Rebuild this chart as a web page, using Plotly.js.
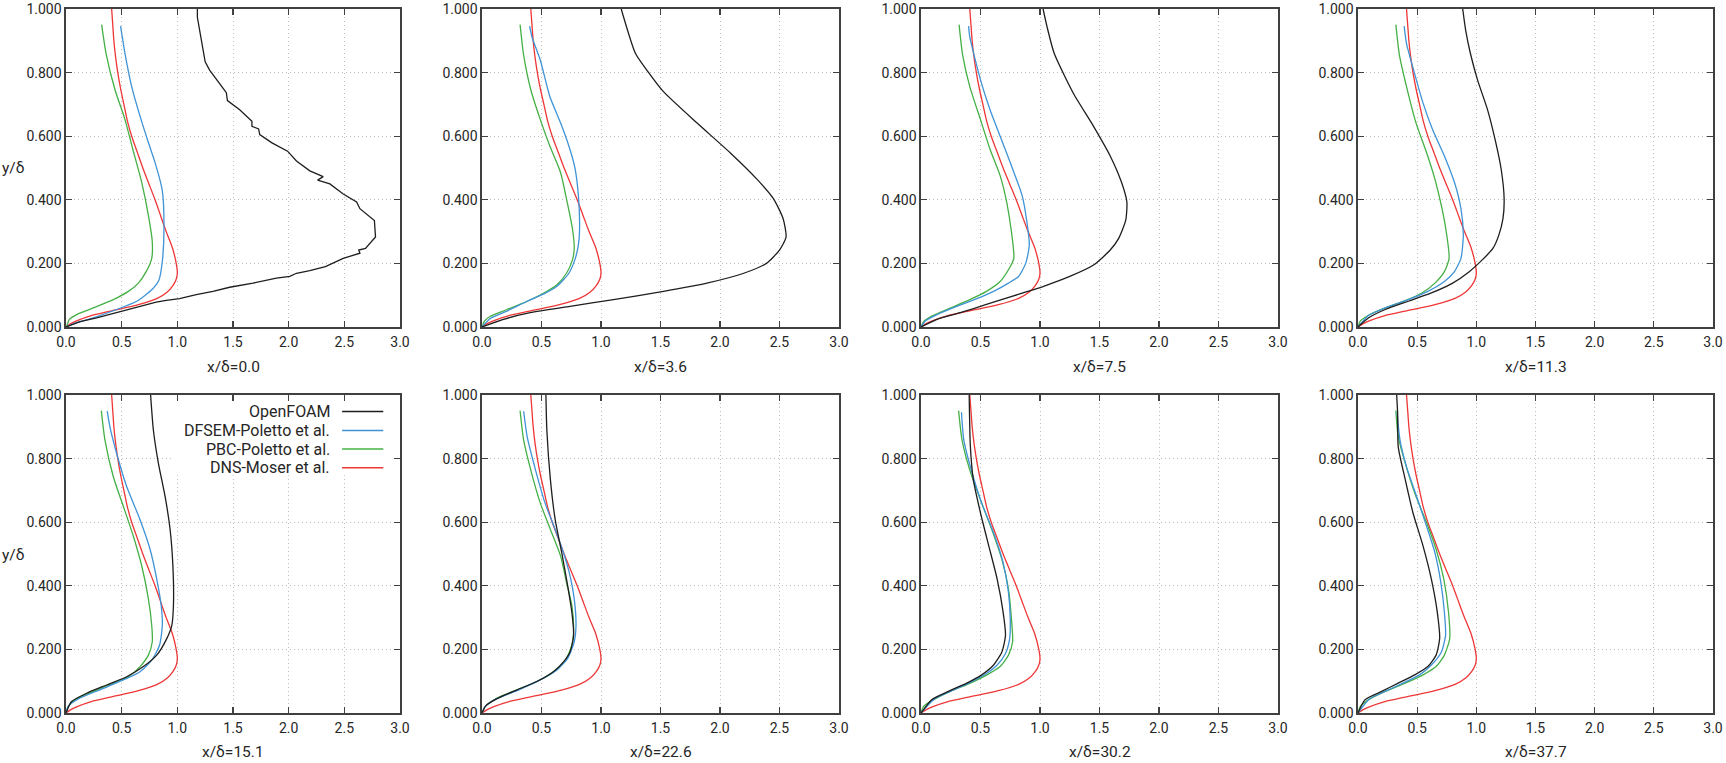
<!DOCTYPE html>
<html>
<head>
<meta charset="utf-8">
<script src="https://cdn.plot.ly/plotly-3.0.1.min.js"></script>
<style>html,body{margin:0;padding:0;background:#fff;overflow:hidden;}#chart{width:1726px;height:763px;}</style>
</head>
<body>
<div id="chart"></div>
<script>
// ---------- DATA ----------
const panelTitles = ['x/δ=0.0','x/δ=3.6','x/δ=7.5','x/δ=11.3','x/δ=15.1','x/δ=22.6','x/δ=30.2','x/δ=37.7'];
const seriesNames = ['OpenFOAM','DFSEM-Poletto et al.','PBC-Poletto et al.','DNS-Moser et al.'];
const seriesColors = ['#1e1e1e','#3f93d6','#45b045','#ee3636'];

// DNS (Moser et al.) reference profile, same in every panel
const dnsY = [0,0.01,0.02,0.035,0.05,0.07,0.09,0.11,0.13,0.15,0.17,0.20,0.25,0.30,0.35,0.40,0.45,0.50,0.55,0.60,0.65,0.70,0.75,0.80,0.85,0.90,0.95,1.0];
const dnsX = [0,0.04,0.10,0.22,0.40,0.65,0.82,0.91,0.96,0.99,1.0,0.99,0.955,0.90,0.85,0.80,0.745,0.69,0.64,0.59,0.55,0.52,0.49,0.465,0.445,0.43,0.42,0.41];

// Panel 1: x/δ=0.0
const of1y = [0,0.017,0.029,0.045,0.060,0.078,0.084,0.089,0.102,0.112,0.125,0.138,0.154,0.159,0.169,0.177,0.190,0.216,0.232,0.242,0.247,0.273,0.283,0.335,0.372,0.393,0.418,0.450,0.462,0.473,0.491,0.522,0.553,0.579,0.605,0.623,0.631,0.647,0.683,0.712,0.737,0.756,0.808,0.834,0.974,1.0];
const of1x = [0,0.126,0.275,0.455,0.60,0.81,0.90,1.02,1.17,1.32,1.47,1.68,1.89,2.01,2.07,2.19,2.33,2.49,2.64,2.63,2.69,2.76,2.78,2.77,2.64,2.61,2.49,2.37,2.26,2.31,2.19,2.07,1.99,1.85,1.74,1.73,1.67,1.67,1.56,1.45,1.44,1.40,1.29,1.25,1.18,1.18];
const df1y = [0,0.0135,0.029,0.055,0.081,0.117,0.148,0.206,0.309,0.429,0.517,0.58,0.663,0.756,0.86,0.946];
const df1x = [0,0.096,0.245,0.455,0.635,0.77,0.835,0.865,0.88,0.865,0.80,0.74,0.665,0.59,0.53,0.49];
const pb1y = [0,0.003,0.024,0.039,0.060,0.086,0.112,0.138,0.174,0.216,0.268,0.351,0.455,0.559,0.652,0.746,0.86,0.951];
const pb1x = [0,0.006,0.03,0.096,0.245,0.425,0.56,0.65,0.72,0.77,0.775,0.74,0.68,0.60,0.53,0.44,0.36,0.32];

// Panel 2: x/δ=3.6
const of2y = [0,0.024,0.045,0.065,0.086,0.112,0.138,0.169,0.200,0.242,0.283,0.341,0.403,0.465,0.548,0.642,0.740,0.808,0.860,1.0];
const of2x = [0,0.18,0.405,0.74,1.105,1.525,1.89,2.20,2.39,2.50,2.555,2.53,2.45,2.31,2.085,1.805,1.525,1.385,1.29,1.17];
const df2y = [0,0.027,0.050,0.081,0.104,0.128,0.169,0.211,0.258,0.309,0.413,0.502,0.569,0.642,0.725,0.839,0.912,0.946];
const df2x = [0,0.07,0.21,0.38,0.52,0.63,0.73,0.78,0.81,0.82,0.81,0.78,0.73,0.66,0.57,0.49,0.42,0.40];
const pb2y = [0,0.019,0.034,0.055,0.081,0.107,0.133,0.169,0.211,0.247,0.309,0.403,0.486,0.569,0.652,0.746,0.855,0.951];
const pb2x = [0,0.022,0.07,0.21,0.38,0.52,0.63,0.71,0.76,0.775,0.76,0.71,0.66,0.57,0.49,0.41,0.35,0.32];

// Panel 3: x/δ=7.5
const of3y = [0,0.024,0.045,0.071,0.104,0.128,0.159,0.195,0.242,0.278,0.335,0.393,0.455,0.538,0.631,0.735,0.860,0.943,1.0];
const of3x = [0,0.134,0.33,0.55,0.83,1.03,1.25,1.45,1.59,1.66,1.72,1.73,1.685,1.59,1.45,1.28,1.12,1.06,1.026];
const df3y = [0,0.019,0.039,0.065,0.089,0.112,0.138,0.159,0.200,0.258,0.330,0.413,0.517,0.600,0.683,0.777,0.912,0.946];
const df3x = [0,0.036,0.134,0.30,0.47,0.61,0.735,0.82,0.88,0.91,0.89,0.85,0.75,0.665,0.58,0.50,0.41,0.40];
const pb3y = [0,0.017,0.034,0.060,0.086,0.112,0.143,0.180,0.216,0.299,0.393,0.476,0.559,0.652,0.756,0.855,0.951];
const pb3x = [0,0.022,0.09,0.25,0.41,0.55,0.665,0.735,0.78,0.76,0.72,0.665,0.58,0.50,0.41,0.35,0.32];

// Panel 4: x/δ=11.3
const of4y = [0,0.029,0.055,0.081,0.107,0.138,0.174,0.211,0.247,0.289,0.341,0.403,0.496,0.579,0.683,0.777,0.860,0.933,1.0];
const of4x = [0,0.09,0.23,0.425,0.62,0.80,0.94,1.05,1.14,1.19,1.225,1.235,1.21,1.165,1.095,1.01,0.95,0.91,0.885];
const df4y = [0,0.037,0.060,0.086,0.112,0.143,0.174,0.216,0.289,0.372,0.455,0.538,0.621,0.704,0.808,0.891,0.946];
const df4x = [0,0.09,0.23,0.425,0.59,0.73,0.815,0.87,0.89,0.87,0.815,0.73,0.63,0.55,0.47,0.41,0.39];
const pb4y = [0,0.019,0.037,0.060,0.083,0.107,0.138,0.174,0.216,0.289,0.372,0.465,0.548,0.642,0.756,0.855,0.951];
const pb4x = [0,0.02,0.09,0.23,0.40,0.54,0.65,0.73,0.77,0.75,0.71,0.65,0.58,0.49,0.41,0.35,0.32];

// Panel 5: x/δ=15.1
const of5y = [0,0.036,0.062,0.088,0.114,0.146,0.182,0.234,0.275,0.338,0.463,0.577,0.681,0.785,0.889,1.0];
const of5x = [0,0.05,0.185,0.365,0.545,0.695,0.815,0.905,0.95,0.965,0.96,0.935,0.89,0.83,0.785,0.76];
const df5y = [0,0.021,0.047,0.073,0.104,0.130,0.166,0.213,0.275,0.338,0.421,0.515,0.608,0.712,0.816,0.899,0.949];
const df5x = [0,0.02,0.126,0.305,0.515,0.665,0.77,0.84,0.865,0.855,0.815,0.755,0.665,0.545,0.455,0.395,0.37];
const pb5y = [0,0.021,0.042,0.068,0.094,0.114,0.146,0.182,0.224,0.275,0.359,0.463,0.556,0.650,0.743,0.858,0.951];
const pb5x = [0,0.02,0.08,0.245,0.425,0.56,0.665,0.74,0.775,0.77,0.74,0.68,0.605,0.515,0.425,0.35,0.317];

// Panel 6: x/δ=22.6
const of6y = [0,0.021,0.045,0.073,0.099,0.130,0.161,0.192,0.244,0.317,0.400,0.504,0.608,0.733,0.889,1.0];
const of6x = [0,0.028,0.126,0.295,0.46,0.60,0.685,0.74,0.77,0.755,0.72,0.67,0.615,0.575,0.545,0.537];
const df6y = [0,0.021,0.045,0.073,0.104,0.135,0.172,0.224,0.275,0.359,0.431,0.504,0.577,0.660,0.764,0.868,0.949];
const df6x = [0,0.028,0.126,0.31,0.49,0.63,0.72,0.775,0.79,0.775,0.74,0.685,0.615,0.53,0.45,0.38,0.35];
const pb6y = [0,0.021,0.047,0.073,0.099,0.130,0.166,0.213,0.265,0.338,0.411,0.494,0.577,0.660,0.764,0.858,0.951];
const pb6x = [0,0.028,0.126,0.295,0.46,0.60,0.70,0.755,0.77,0.755,0.71,0.66,0.575,0.49,0.41,0.35,0.32];

// Panel 7: x/δ=30.2
const of7y = [0,0.042,0.068,0.094,0.120,0.151,0.192,0.244,0.317,0.421,0.525,0.629,0.733,0.837,1.0];
const of7x = [0,0.09,0.23,0.385,0.51,0.61,0.68,0.71,0.69,0.64,0.57,0.50,0.44,0.415,0.405];
const df7y = [0,0.042,0.068,0.094,0.122,0.151,0.187,0.234,0.296,0.379,0.473,0.567,0.660,0.754,0.858,0.946];
const df7x = [0,0.106,0.246,0.40,0.54,0.64,0.71,0.745,0.75,0.735,0.69,0.61,0.51,0.43,0.36,0.34];
const pb7y = [0,0.021,0.042,0.068,0.094,0.120,0.146,0.182,0.224,0.296,0.390,0.483,0.577,0.670,0.764,0.858,0.951];
const pb7x = [0,0.022,0.106,0.246,0.415,0.555,0.665,0.735,0.77,0.76,0.735,0.68,0.595,0.50,0.41,0.345,0.316];

// Panel 8: x/δ=37.7
const of8y = [0,0.042,0.068,0.094,0.120,0.146,0.182,0.234,0.317,0.421,0.525,0.629,0.733,0.837,0.941,1.0];
const of8x = [0,0.06,0.20,0.34,0.48,0.59,0.66,0.69,0.67,0.62,0.55,0.465,0.40,0.34,0.335,0.327];
const df8y = [0,0.042,0.068,0.094,0.120,0.151,0.192,0.244,0.317,0.411,0.504,0.587,0.681,0.774,0.858,0.946];
const df8x = [0,0.09,0.23,0.38,0.52,0.62,0.705,0.74,0.73,0.70,0.65,0.58,0.495,0.41,0.355,0.33];
const pb8y = [0,0.021,0.042,0.068,0.094,0.120,0.146,0.182,0.234,0.317,0.421,0.515,0.598,0.691,0.785,0.868,0.951];
const pb8x = [0,0.02,0.09,0.23,0.40,0.55,0.66,0.73,0.775,0.765,0.725,0.66,0.58,0.48,0.40,0.34,0.32];

const xTickVals = [0,0.5,1.0,1.5,2.0,2.5,3.0];
const yTickVals = [0,0.2,0.4,0.6,0.8,1.0];

// ---------- BUILD ----------
const panels = [
  [of1x,of1y,df1x,df1y,pb1x,pb1y],
  [of2x,of2y,df2x,df2y,pb2x,pb2y],
  [of3x,of3y,df3x,df3y,pb3x,pb3y],
  [of4x,of4y,df4x,df4y,pb4x,pb4y],
  [of5x,of5y,df5x,df5y,pb5x,pb5y],
  [of6x,of6y,df6x,df6y,pb6x,pb6y],
  [of7x,of7y,df7x,df7y,pb7x,pb7y],
  [of8x,of8y,df8x,df8y,pb8x,pb8y]
];

const W = 1726, H = 763;
const colPx = [[66,400],[482,839],[921,1278],[1358,1713]];
const rowPx = [[9,327],[395,713]];
const titlePy = [367, 752];
const FONT = 'Roboto, "DejaVu Sans", sans-serif';
const TXT = '#262626';

const traces = [];
const layout = {
  width: W, height: H,
  margin: {l:0,r:0,t:0,b:0},
  paper_bgcolor: '#ffffff', plot_bgcolor: '#ffffff',
  showlegend: false,
  font: {family: FONT, color: TXT, size: 14},
  annotations: [], shapes: []
};

panels.forEach((p, i) => {
  const k = i + 1;
  const xa = 'x' + k, ya = 'y' + k;
  const col = i % 4, row = Math.floor(i / 4);
  const lw = 1.3;
  // draw order: DNS, PBC, DFSEM, OpenFOAM
  traces.push({x: dnsX, y: dnsY, xaxis: xa, yaxis: ya, mode: 'lines', name: seriesNames[3],
    line: {color: seriesColors[3], width: lw, shape: 'spline', smoothing: 0.6}});
  traces.push({x: p[4], y: p[5], xaxis: xa, yaxis: ya, mode: 'lines', name: seriesNames[2],
    line: {color: seriesColors[2], width: lw, shape: 'spline', smoothing: 0.6}});
  traces.push({x: p[2], y: p[3], xaxis: xa, yaxis: ya, mode: 'lines', name: seriesNames[1],
    line: {color: seriesColors[1], width: lw, shape: 'spline', smoothing: 0.6}});
  traces.push({x: p[0], y: p[1], xaxis: xa, yaxis: ya, mode: 'lines', name: seriesNames[0],
    line: {color: seriesColors[0], width: lw, shape: i === 0 ? 'linear' : 'spline', smoothing: 0.6}});

  const common = {
    showline: true, linecolor: '#404040', linewidth: 1.6, mirror: 'ticks',
    ticks: 'inside', ticklen: 6, tickwidth: 1.2, tickcolor: '#404040',
    showgrid: true, gridcolor: '#bdbdbd', gridwidth: 1, griddash: '1px,3px',
    zeroline: false, fixedrange: true, ticklabeloverflow: 'allow',
    tickfont: {family: FONT, size: 14, color: TXT}
  };
  layout['xaxis' + k] = Object.assign({}, common, {
    domain: [colPx[col][0] / W, colPx[col][1] / W],
    anchor: ya, range: [0, 3], tickvals: xTickVals, tickformat: '.1f', ticklabelstandoff: 2
  });
  layout['yaxis' + k] = Object.assign({}, common, {
    domain: [1 - rowPx[row][1] / H, 1 - rowPx[row][0] / H],
    anchor: xa, range: [0, 1], tickvals: yTickVals, tickformat: '.3f'
  });
  // x-axis caption under each panel
  layout.annotations.push({text: panelTitles[i], xref: 'x' + k + ' domain', yref: 'paper',
    x: 0.5, y: 1 - titlePy[row] / H, xanchor: 'center', yanchor: 'middle', showarrow: false,
    font: {family: FONT, size: 15.5, color: TXT}});
});

// y-axis label (horizontal, gnuplot style) for each row
[168, 555].forEach(py => {
  layout.annotations.push({text: 'y/δ', xref: 'paper', yref: 'paper', x: 0, y: 1 - py / H,
    xanchor: 'left', yanchor: 'middle', showarrow: false,
    font: {family: FONT, size: 15.5, color: TXT}});
});

// Legend inside panel 5 (text left of the sample line, gnuplot style)
const legX = 0.95; // opaque box left edge (data units)
const legBoxBottom = 0.748;
layout.shapes.push({type: 'rect', xref: 'x5', yref: 'y5', x0: legX, x1: 3, y0: legBoxBottom, y1: 1,
  fillcolor: '#ffffff', line: {width: 0}, layer: 'between'});
const legRows = [0.948, 0.888, 0.830, 0.771];
const legOrder = [0, 1, 2, 3];
legOrder.forEach((s, r) => {
  layout.annotations.push({text: seriesNames[s], xref: 'x5', yref: 'y5', x: 2.39, y: legRows[r],
    xanchor: 'right', yanchor: 'middle', showarrow: false,
    font: {family: FONT, size: 16, color: TXT}});
  layout.shapes.push({type: 'line', xref: 'x5', yref: 'y5', x0: 2.48, x1: 2.85, y0: legRows[r], y1: legRows[r],
    line: {color: seriesColors[s], width: 1.5}});
});

Plotly.newPlot('chart', traces, layout, {staticPlot: true, displayModeBar: false});
</script>
</body>
</html>
